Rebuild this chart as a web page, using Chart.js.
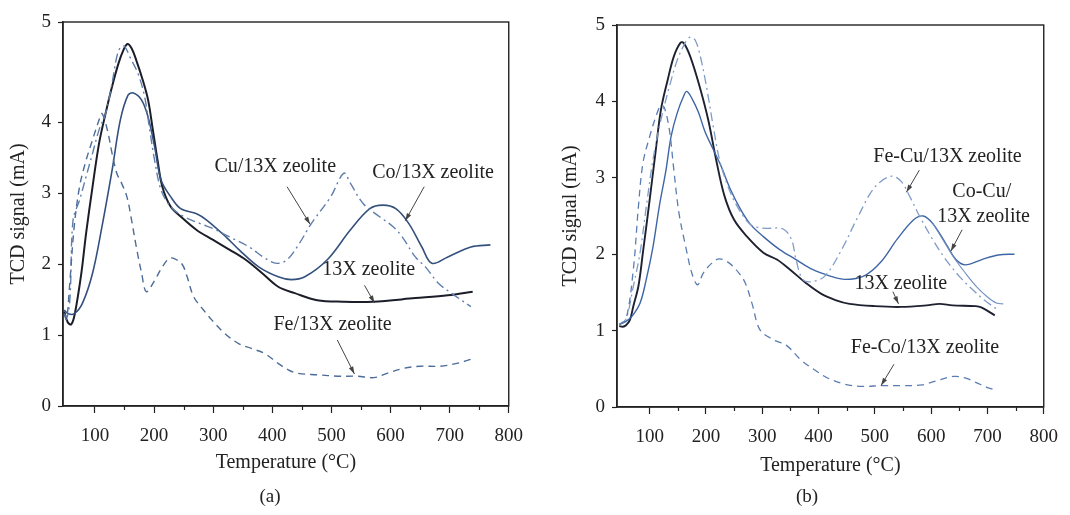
<!DOCTYPE html>
<html><head><meta charset="utf-8">
<script src="https://cdn.jsdelivr.net/npm/chart.js@4/dist/chart.umd.min.js"></script>
<style>
html,body{margin:0;padding:0;background:#fff;width:1070px;height:515px;overflow:hidden;}
.wrap{position:absolute;top:0;width:535px;height:515px;}
#wa{left:0;} #wb{left:535px;}
.cap{position:absolute;top:485px;font:19px "Liberation Serif",serif;color:#222;transform:translateX(-50%);white-space:nowrap;}
</style></head><body>
<div class="wrap" id="wa"><canvas id="ca" width="535" height="515"></canvas></div>
<div class="wrap" id="wb"><canvas id="cb" width="535" height="515"></canvas></div>
<div class="cap" style="left:270px">(a)</div>
<div class="cap" style="left:807px">(b)</div>
<script>
// ---------- shared axis text ----------
const xTitle = 'Temperature (°C)';
const yTitle = 'TCD signal (mA)';
const xMajorTicks = [100, 200, 300, 400, 500, 600, 700, 800];
const xMinorTicks = [150, 250, 350, 450, 550, 650, 750];
const yTickLabels = ['0', '1', '2', '3', '4', '5'];

// ---------- panel (a) ----------
const tA13X = [48, 54, 60, 66, 77, 85, 96, 107, 118, 129, 140, 148, 155, 162, 170, 181, 190, 198, 206, 214, 228, 245, 272, 300, 328, 355, 383, 410, 438, 476, 520, 570, 642, 697, 739];
const vA13X = [1.33, 1.18, 1.15, 1.30, 1.87, 2.43, 3.09, 3.70, 4.12, 4.50, 4.83, 5.01, 5.10, 5.04, 4.87, 4.59, 4.31, 3.89, 3.46, 3.09, 2.81, 2.67, 2.48, 2.34, 2.20, 2.06, 1.87, 1.68, 1.59, 1.49, 1.47, 1.47, 1.52, 1.56, 1.61];
const tACo = [48, 55, 65, 79, 96, 112, 129, 143, 156, 165, 179, 190, 201, 212, 228, 245, 272, 289, 322, 344, 377, 410, 432, 455, 493, 532, 565, 587, 609, 631, 653, 670, 697, 736, 769];
const vACo = [1.35, 1.30, 1.30, 1.45, 1.87, 2.53, 3.32, 4.03, 4.38, 4.41, 4.31, 4.07, 3.65, 3.18, 2.95, 2.78, 2.71, 2.62, 2.38, 2.20, 1.96, 1.82, 1.78, 1.82, 2.06, 2.48, 2.78, 2.83, 2.78, 2.57, 2.24, 2.01, 2.10, 2.24, 2.27];
const tACu = [48, 53, 58, 63, 74, 85, 96, 107, 118, 129, 137, 143, 150, 159, 173, 184, 192, 201, 212, 228, 250, 278, 305, 333, 361, 388, 408, 425, 445, 466, 499, 521, 532, 554, 581, 604, 620, 642, 659, 681, 703, 736];
const vACu = [1.30, 1.25, 1.55, 2.62, 2.90, 3.23, 3.56, 3.89, 4.12, 4.55, 4.92, 5.05, 5.07, 4.92, 4.68, 4.36, 3.93, 3.46, 3.04, 2.81, 2.67, 2.57, 2.48, 2.36, 2.24, 2.08, 2.01, 2.06, 2.28, 2.57, 2.95, 3.28, 3.14, 2.85, 2.67, 2.53, 2.38, 2.10, 1.96, 1.73, 1.59, 1.40];
const tAFe = [48, 52, 57, 65, 74, 85, 96, 107, 112, 121, 129, 137, 145, 154, 162, 170, 179, 187, 201, 214, 226, 236, 248, 256, 267, 283, 298, 320, 343, 365, 387, 410, 427, 443, 477, 511, 544, 572, 594, 622, 650, 684, 712, 737];
const vAFe = [1.30, 1.22, 1.68, 2.53, 3.09, 3.46, 3.75, 4.03, 4.12, 3.89, 3.56, 3.28, 3.14, 2.95, 2.62, 2.24, 1.87, 1.61, 1.77, 1.96, 2.08, 2.07, 1.99, 1.82, 1.54, 1.36, 1.21, 1.02, 0.88, 0.81, 0.74, 0.60, 0.51, 0.46, 0.44, 0.42, 0.42, 0.40, 0.46, 0.53, 0.56, 0.56, 0.60, 0.66];
const labelsA = [
  {text: 'Cu/13X zeolite', x: 405, y: 3.37},
  {text: 'Co/13X zeolite', x: 672, y: 3.28},
  {text: '13X zeolite', x: 563, y: 1.92},
  {text: 'Fe/13X zeolite', x: 502, y: 1.15}
];
const arrowsA = [
  {x1: 425, y1: 3.09, x2: 464, y2: 2.56},
  {x1: 657, y1: 3.09, x2: 625, y2: 2.61},
  {x1: 556, y1: 1.70, x2: 573, y2: 1.45},
  {x1: 510, y1: 0.93, x2: 539, y2: 0.45}
];

// ---------- panel (b) ----------
const tB13X = [46, 52, 58, 65, 71, 80, 88, 100, 111, 120, 132, 143, 155, 161, 172, 187, 204, 218, 233, 250, 273, 302, 326, 349, 378, 405, 430, 455, 500, 546, 592, 615, 638, 679, 690, 713];
const vB13X = [1.06, 1.05, 1.07, 1.14, 1.32, 1.58, 2.02, 2.71, 3.37, 3.89, 4.28, 4.59, 4.77, 4.76, 4.59, 4.24, 3.76, 3.24, 2.76, 2.45, 2.23, 2.02, 1.93, 1.80, 1.62, 1.48, 1.40, 1.35, 1.32, 1.31, 1.33, 1.35, 1.33, 1.32, 1.30, 1.20];
const tBCoCu = [46, 58, 70, 83, 94, 106, 117, 129, 138, 149, 161, 166, 175, 187, 198, 213, 227, 244, 262, 279, 302, 331, 360, 389, 418, 447, 482, 511, 540, 569, 586, 603, 626, 644, 661, 690, 719, 748];
const vBCoCu = [1.08, 1.12, 1.20, 1.36, 1.67, 2.10, 2.62, 3.10, 3.54, 3.85, 4.08, 4.13, 4.04, 3.85, 3.61, 3.37, 3.15, 2.84, 2.58, 2.39, 2.23, 2.06, 1.93, 1.80, 1.72, 1.67, 1.72, 1.90, 2.20, 2.45, 2.50, 2.40, 2.14, 1.93, 1.86, 1.93, 1.99, 2.00];
// second, lower tail that leaves the Co-Cu descent and ends near 1.35
const tBCoCuTail = [603, 620, 640, 660, 680, 700, 716, 728];
const vBCoCuTail = [2.40, 2.20, 1.96, 1.76, 1.58, 1.44, 1.36, 1.35];
const tBFeCu = [46, 58, 71, 83, 94, 106, 120, 135, 149, 164, 172, 181, 190, 201, 213, 224, 239, 256, 279, 302, 337, 352, 360, 372, 389, 412, 441, 470, 499, 528, 546, 563, 580, 603, 626, 650, 673, 696, 719];
const vBFeCu = [1.08, 1.15, 1.58, 2.02, 2.62, 3.24, 3.76, 4.19, 4.54, 4.78, 4.84, 4.80, 4.59, 4.19, 3.67, 3.24, 2.89, 2.62, 2.39, 2.34, 2.33, 2.19, 1.93, 1.67, 1.64, 1.72, 2.06, 2.49, 2.87, 3.02, 2.96, 2.74, 2.49, 2.19, 1.93, 1.71, 1.54, 1.39, 1.27];
const tBFeCo = [46, 58, 71, 80, 88, 100, 111, 120, 126, 135, 143, 152, 164, 175, 185, 195, 210, 224, 242, 259, 270, 282, 296, 320, 344, 368, 392, 416, 446, 476, 512, 548, 584, 608, 640, 660, 680, 698, 715];
const vBFeCo = [1.08, 1.15, 1.80, 2.62, 3.19, 3.54, 3.80, 3.95, 3.92, 3.63, 3.10, 2.54, 2.10, 1.75, 1.60, 1.75, 1.88, 1.94, 1.88, 1.75, 1.62, 1.35, 1.01, 0.88, 0.80, 0.62, 0.49, 0.38, 0.30, 0.27, 0.28, 0.28, 0.29, 0.34, 0.40, 0.38, 0.32, 0.26, 0.22];
const labelsB = [
  {text: 'Fe-Cu/13X zeolite', x: 629, y: 3.27},
  {text: 'Co-Cu/', x: 690, y: 2.82},
  {text: '13X zeolite', x: 693, y: 2.49},
  {text: '13X zeolite', x: 546, y: 1.61},
  {text: 'Fe-Co/13X zeolite', x: 589, y: 0.78}
];
const arrowsB = [
  {x1: 579, y1: 3.10, x2: 556, y2: 2.81},
  {x1: 655, y1: 2.32, x2: 635, y2: 2.04},
  {x1: 532, y1: 1.51, x2: 542, y2: 1.35},
  {x1: 534, y1: 0.56, x2: 511, y2: 0.28}
];

// ---------- helpers ----------
const FONT = '"Liberation Serif", "Times New Roman", serif';
const INK = '#222';
const pts = (t, v) => t.map((x, i) => ({x, y: v[i]}));

const decorPlugin = {
  id: 'decor',
  afterDatasetsDraw(chart, args, opts) {
    const {ctx, chartArea: a, scales: {x, y}} = chart;
    ctx.save();
    ctx.strokeStyle = INK; ctx.lineWidth = 1.4;
    ctx.strokeRect(a.left, a.top, a.right - a.left, a.bottom - a.top);
    // short minor ticks on the temperature axis
    ctx.lineWidth = 1.2;
    for (const v of xMinorTicks) {
      const px = Math.round(x.getPixelForValue(v)) + 0.5;
      ctx.beginPath(); ctx.moveTo(px, a.bottom); ctx.lineTo(px, a.bottom + 4); ctx.stroke();
    }
    ctx.fillStyle = INK;
    ctx.font = '20px ' + FONT;
    ctx.textAlign = 'center'; ctx.textBaseline = 'middle';
    for (const l of opts.labels) ctx.fillText(l.text, x.getPixelForValue(l.x), y.getPixelForValue(l.y));
    ctx.strokeStyle = '#444'; ctx.fillStyle = '#444'; ctx.lineWidth = 1;
    for (const ar of opts.arrows) {
      const x1 = x.getPixelForValue(ar.x1), y1 = y.getPixelForValue(ar.y1);
      const x2 = x.getPixelForValue(ar.x2), y2 = y.getPixelForValue(ar.y2);
      ctx.beginPath(); ctx.moveTo(x1, y1); ctx.lineTo(x2, y2); ctx.stroke();
      const ang = Math.atan2(y2 - y1, x2 - x1), L = 8, w = 0.3;
      ctx.beginPath(); ctx.moveTo(x2, y2);
      ctx.lineTo(x2 - L * Math.cos(ang - w), y2 - L * Math.sin(ang - w));
      ctx.lineTo(x2 - L * Math.cos(ang + w), y2 - L * Math.sin(ang + w));
      ctx.closePath(); ctx.fill();
    }
    ctx.restore();
  }
};

function makeChart(id, cfg) {
  const ds = cfg.series.map(s => ({
    label: s.label, data: pts(s.t, s.v), borderColor: s.color, borderWidth: s.width,
    borderDash: s.dash || [], pointRadius: 0, tension: 0.35, fill: false
  }));
  return new Chart(document.getElementById(id), {
    type: 'line',
    data: {datasets: ds},
    options: {
      responsive: false, animation: false, events: [],
      layout: {padding: {left: 0, right: cfg.padRight, top: cfg.padTop, bottom: 0}},
      plugins: {legend: {display: false}, tooltip: {enabled: false},
        decor: {labels: cfg.labels, arrows: cfg.arrows}},
      scales: {
        x: {
          type: 'linear', min: cfg.xMin, max: cfg.xMax,
          afterBuildTicks: s => { s.ticks = xMajorTicks.map(v => ({value: v})); },
          afterFit: s => { s.height = cfg.xAxisH; },
          ticks: {autoSkip: false, maxRotation: 0, padding: 12, color: INK, font: {family: FONT, size: 19},
            callback: v => String(v)},
          grid: {drawOnChartArea: false, tickLength: 7, color: INK, tickWidth: 1.2},
          border: {display: true, color: INK, width: 1.5},
          title: {display: true, text: xTitle, color: INK, font: {family: FONT, size: 20}, padding: {top: 0, bottom: cfg.xTitlePad}}
        },
        y: {
          type: 'linear', min: 0, max: cfg.yMax,
          afterBuildTicks: s => { s.ticks = [0, 1, 2, 3, 4].map(v => ({value: v})).concat([{value: s.max}]); },
          afterFit: s => { s.width = cfg.yAxisW; },
          ticks: {autoSkip: false, padding: 7, color: INK, font: {family: FONT, size: 19},
            callback: (v, i) => yTickLabels[i]},
          grid: {drawOnChartArea: false, tickLength: 5, color: INK, tickWidth: 1.2},
          border: {display: true, color: INK, width: 1.5},
          title: {display: true, text: yTitle, color: INK, font: {family: FONT, size: 20}, padding: {top: cfg.yTitlePad, bottom: 0}}
        }
      }
    },
    plugins: [decorPlugin]
  });
}

makeChart('ca', {
  xMin: 46, xMax: 800, yMax: 5.41, padRight: 17, padTop: 22, xAxisH: 109, yAxisW: 63,
  xTitlePad: 40, yTitlePad: 7, labels: labelsA, arrows: arrowsA,
  series: [
    {label: 'Fe/13X zeolite', t: tAFe, v: vAFe, color: '#4d6c98', width: 1.4, dash: [7, 5]},
    {label: 'Cu/13X zeolite', t: tACu, v: vACu, color: '#5f7fab', width: 1.4, dash: [9, 4, 2, 4]},
    {label: 'Co/13X zeolite', t: tACo, v: vACo, color: '#34507c', width: 1.6},
    {label: '13X zeolite', t: tA13X, v: vA13X, color: '#1b1d29', width: 2}
  ]
});
makeChart('cb', {
  xMin: 42, xMax: 800, yMax: 5, padRight: 17, padTop: 25, xAxisH: 108, yAxisW: 82,
  xTitlePad: 37, yTitlePad: 24, labels: labelsB, arrows: arrowsB,
  series: [
    {label: 'Fe-Co/13X zeolite', t: tBFeCo, v: vBFeCo, color: '#5b7db2', width: 1.3, dash: [7, 5]},
    {label: 'Fe-Cu/13X zeolite', t: tBFeCu, v: vBFeCu, color: '#7f9cc8', width: 1.3, dash: [9, 4, 2, 4]},
    {label: 'Co-Cu/13X zeolite (tail)', t: tBCoCuTail, v: vBCoCuTail, color: '#6f8fc2', width: 1.1},
    {label: 'Co-Cu/13X zeolite', t: tBCoCu, v: vBCoCu, color: '#3e66a6', width: 1.4},
    {label: '13X zeolite', t: tB13X, v: vB13X, color: '#1e2130', width: 1.9}
  ]
});
</script>
</body></html>
